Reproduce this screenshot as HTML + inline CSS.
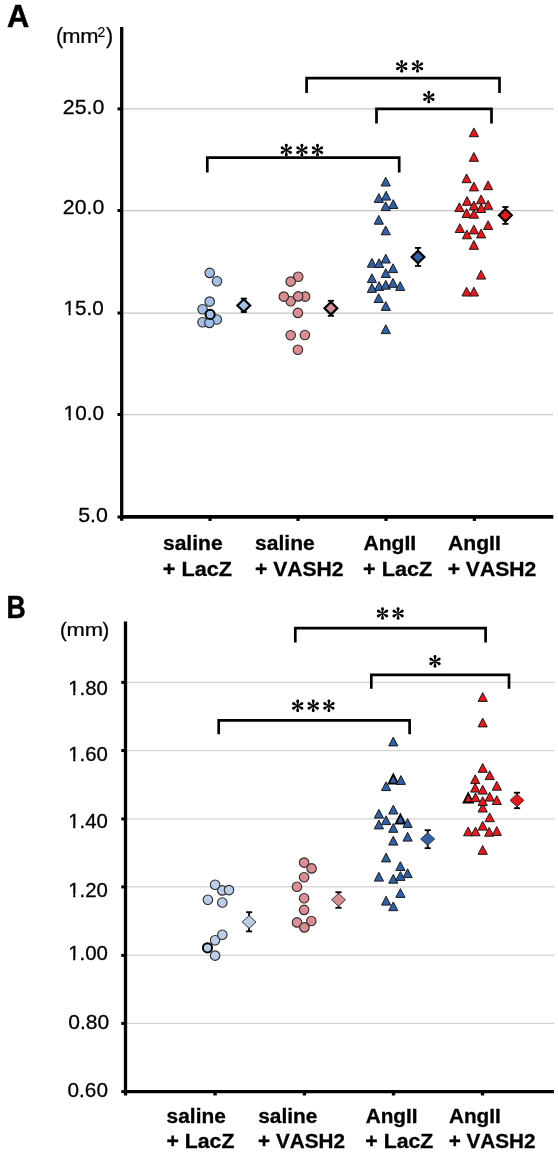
<!DOCTYPE html>
<html><head><meta charset="utf-8"><title>Figure</title>
<style>
html,body{margin:0;padding:0;background:#fff;}
body{width:558px;height:1155px;overflow:hidden;}
svg{display:block;font-family:"Liberation Sans", sans-serif;font-kerning:none;will-change:transform;}
</style></head><body>
<svg width="558" height="1155" viewBox="0 0 558 1155">
<rect width="558" height="1155" fill="#fff"/>
<line x1="121.7" y1="108.9" x2="553.3" y2="108.9" stroke="#c6c6c6" stroke-width="1.25"/>
<line x1="121.7" y1="210.5" x2="553.3" y2="210.5" stroke="#c6c6c6" stroke-width="1.25"/>
<line x1="121.7" y1="313.0" x2="553.3" y2="313.0" stroke="#c6c6c6" stroke-width="1.25"/>
<line x1="121.7" y1="414.5" x2="553.3" y2="414.5" stroke="#c6c6c6" stroke-width="1.25"/>
<line x1="117.5" y1="108.9" x2="121.7" y2="108.9" stroke="#000" stroke-width="3"/>
<line x1="117.5" y1="210.5" x2="121.7" y2="210.5" stroke="#000" stroke-width="3"/>
<line x1="117.5" y1="313.0" x2="121.7" y2="313.0" stroke="#000" stroke-width="3"/>
<line x1="117.5" y1="414.5" x2="121.7" y2="414.5" stroke="#000" stroke-width="3"/>
<line x1="117.5" y1="517.0" x2="121.7" y2="517.0" stroke="#000" stroke-width="3"/>
<line x1="210.05" y1="517.0" x2="210.05" y2="520.9" stroke="#000" stroke-width="3.3"/>
<line x1="298.05" y1="517.0" x2="298.05" y2="520.9" stroke="#000" stroke-width="3.3"/>
<line x1="386.00" y1="517.0" x2="386.00" y2="520.9" stroke="#000" stroke-width="3.3"/>
<line x1="474.40" y1="517.0" x2="474.40" y2="520.9" stroke="#000" stroke-width="3.3"/>
<line x1="121.7" y1="27.0" x2="121.7" y2="520.8" stroke="#000" stroke-width="3.3"/>
<line x1="120.1" y1="516.95" x2="553.3" y2="516.95" stroke="#000" stroke-width="3.7"/>
<line x1="125.5" y1="682.4" x2="554.5" y2="682.4" stroke="#d5d5d5" stroke-width="1.25"/>
<line x1="125.5" y1="750.5" x2="554.5" y2="750.5" stroke="#d5d5d5" stroke-width="1.25"/>
<line x1="125.5" y1="818.9" x2="554.5" y2="818.9" stroke="#d5d5d5" stroke-width="1.25"/>
<line x1="125.5" y1="886.9" x2="554.5" y2="886.9" stroke="#d5d5d5" stroke-width="1.25"/>
<line x1="125.5" y1="955.4" x2="554.5" y2="955.4" stroke="#d5d5d5" stroke-width="1.25"/>
<line x1="125.5" y1="1023.4" x2="554.5" y2="1023.4" stroke="#d5d5d5" stroke-width="1.25"/>
<line x1="121.3" y1="682.4" x2="125.5" y2="682.4" stroke="#000" stroke-width="3"/>
<line x1="121.3" y1="750.5" x2="125.5" y2="750.5" stroke="#000" stroke-width="3"/>
<line x1="121.3" y1="818.9" x2="125.5" y2="818.9" stroke="#000" stroke-width="3"/>
<line x1="121.3" y1="886.9" x2="125.5" y2="886.9" stroke="#000" stroke-width="3"/>
<line x1="121.3" y1="955.4" x2="125.5" y2="955.4" stroke="#000" stroke-width="3"/>
<line x1="121.3" y1="1023.4" x2="125.5" y2="1023.4" stroke="#000" stroke-width="3"/>
<line x1="121.3" y1="1091.6" x2="125.5" y2="1091.6" stroke="#000" stroke-width="3"/>
<line x1="215.10" y1="1091.6" x2="215.10" y2="1095.5" stroke="#000" stroke-width="3.3"/>
<line x1="304.45" y1="1091.6" x2="304.45" y2="1095.5" stroke="#000" stroke-width="3.3"/>
<line x1="393.50" y1="1091.6" x2="393.50" y2="1095.5" stroke="#000" stroke-width="3.3"/>
<line x1="482.50" y1="1091.6" x2="482.50" y2="1095.5" stroke="#000" stroke-width="3.3"/>
<line x1="125.5" y1="621.4" x2="125.5" y2="1095.4" stroke="#000" stroke-width="3.3"/>
<line x1="123.9" y1="1091.60" x2="553.9" y2="1091.60" stroke="#000" stroke-width="3.4"/>
<text transform="translate(62.83,114.00) scale(1.046,1)" font-size="20.40" stroke="#000" stroke-width="0.3">25.0</text>
<text transform="translate(62.83,214.10) scale(1.043,1)" font-size="20.40" stroke="#000" stroke-width="0.3">20.0</text>
<text transform="translate(63.52,314.50) scale(1.015,1)" font-size="20.40" stroke="#000" stroke-width="0.3">15.0</text>
<rect x="63.90" y="311.50" width="4.68" height="4.50" fill="#fff"/>
<rect x="70.71" y="311.50" width="4.52" height="4.50" fill="#fff"/>
<text transform="translate(63.62,419.90) scale(1.018,1)" font-size="20.40" stroke="#000" stroke-width="0.3">10.0</text>
<rect x="64.00" y="416.90" width="4.69" height="4.50" fill="#fff"/>
<rect x="70.83" y="416.90" width="4.53" height="4.50" fill="#fff"/>
<text transform="translate(78.24,522.20) scale(1.048,1)" font-size="20.40" stroke="#000" stroke-width="0.3">5.0</text>
<text transform="translate(68.25,694.80) scale(0.987,1)" font-size="20.60" stroke="#000" stroke-width="0.3">1.80</text>
<rect x="68.60" y="691.80" width="4.61" height="4.50" fill="#fff"/>
<rect x="75.31" y="691.80" width="4.46" height="4.50" fill="#fff"/>
<text transform="translate(68.25,761.20) scale(0.987,1)" font-size="20.60" stroke="#000" stroke-width="0.3">1.60</text>
<rect x="68.60" y="758.20" width="4.61" height="4.50" fill="#fff"/>
<rect x="75.31" y="758.20" width="4.46" height="4.50" fill="#fff"/>
<text transform="translate(68.25,828.30) scale(0.987,1)" font-size="20.60" stroke="#000" stroke-width="0.3">1.40</text>
<rect x="68.60" y="825.30" width="4.61" height="4.50" fill="#fff"/>
<rect x="75.31" y="825.30" width="4.46" height="4.50" fill="#fff"/>
<text transform="translate(68.25,896.50) scale(0.987,1)" font-size="20.60" stroke="#000" stroke-width="0.3">1.20</text>
<rect x="68.60" y="893.50" width="4.61" height="4.50" fill="#fff"/>
<rect x="75.31" y="893.50" width="4.46" height="4.50" fill="#fff"/>
<text transform="translate(68.14,960.40) scale(0.992,1)" font-size="20.60" stroke="#000" stroke-width="0.3">1.00</text>
<rect x="68.50" y="957.40" width="4.63" height="4.50" fill="#fff"/>
<rect x="75.24" y="957.40" width="4.47" height="4.50" fill="#fff"/>
<text transform="translate(68.28,1029.20) scale(1.022,1)" font-size="20.60" stroke="#000" stroke-width="0.3">0.80</text>
<text transform="translate(67.59,1096.70) scale(1.006,1)" font-size="20.60" stroke="#000" stroke-width="0.3">0.60</text>
<text transform="translate(6.98,26.85) scale(0.975,1)" font-size="31.60" font-weight="bold" stroke="#000" stroke-width="0.5">A</text>
<text transform="translate(6.47,618.20) scale(0.830,1)" font-size="32.00" font-weight="bold" stroke="#000" stroke-width="0.5">B</text>
<text x="55.88" y="43.00" font-size="21.30" stroke="#000" stroke-width="0.25">(</text>
<text transform="translate(62.15,42.70) scale(1.100,1)" font-size="19.90" stroke="#000" stroke-width="0.25">mm</text>
<text x="97.50" y="36.60" font-size="14.00" stroke="#000" stroke-width="0.2">2</text>
<text x="105.93" y="43.00" font-size="21.30" stroke="#000" stroke-width="0.25">)</text>
<text x="59.96" y="636.60" font-size="20.00" stroke="#000" stroke-width="0.3">(</text>
<text transform="translate(66.44,636.20) scale(1.146,1)" font-size="19.20" stroke="#000" stroke-width="0.25">mm</text>
<text x="102.38" y="636.60" font-size="20.00" stroke="#000" stroke-width="0.3">)</text>
<text transform="translate(163.01,549.90) scale(1.025,1)" font-size="20.50" font-weight="bold" stroke="#000" stroke-width="0.3">saline</text>
<text transform="translate(162.84,576.10) scale(1.040,1)" font-size="20.80" font-weight="bold" stroke="#000" stroke-width="0.3">+ LacZ</text>
<text transform="translate(255.11,549.90) scale(1.025,1)" font-size="20.50" font-weight="bold" stroke="#000" stroke-width="0.3">saline</text>
<text transform="translate(254.96,576.10) scale(1.015,1)" font-size="20.80" font-weight="bold" stroke="#000" stroke-width="0.3">+ VASH2</text>
<text transform="translate(363.42,549.90) scale(1.030,1)" font-size="20.50" font-weight="bold" stroke="#000" stroke-width="0.3">AngII</text>
<text transform="translate(363.04,576.10) scale(1.040,1)" font-size="20.80" font-weight="bold" stroke="#000" stroke-width="0.3">+ LacZ</text>
<text transform="translate(448.02,549.90) scale(1.030,1)" font-size="20.50" font-weight="bold" stroke="#000" stroke-width="0.3">AngII</text>
<text transform="translate(447.66,576.10) scale(1.015,1)" font-size="20.80" font-weight="bold" stroke="#000" stroke-width="0.3">+ VASH2</text>
<text transform="translate(166.62,1123.45) scale(1.039,1)" font-size="20.10" font-weight="bold" stroke="#000" stroke-width="0.3">saline</text>
<text transform="translate(166.46,1148.35) scale(1.058,1)" font-size="20.10" font-weight="bold" stroke="#000" stroke-width="0.3">+ LacZ</text>
<text transform="translate(258.22,1123.45) scale(1.039,1)" font-size="20.10" font-weight="bold" stroke="#000" stroke-width="0.3">saline</text>
<text transform="translate(258.08,1148.35) scale(1.030,1)" font-size="20.10" font-weight="bold" stroke="#000" stroke-width="0.3">+ VASH2</text>
<text transform="translate(365.73,1123.45) scale(1.032,1)" font-size="20.10" font-weight="bold" stroke="#000" stroke-width="0.3">AngII</text>
<text transform="translate(365.36,1148.35) scale(1.058,1)" font-size="20.10" font-weight="bold" stroke="#000" stroke-width="0.3">+ LacZ</text>
<text transform="translate(448.98,1123.45) scale(1.032,1)" font-size="20.10" font-weight="bold" stroke="#000" stroke-width="0.3">AngII</text>
<text transform="translate(448.63,1148.35) scale(1.030,1)" font-size="20.10" font-weight="bold" stroke="#000" stroke-width="0.3">+ VASH2</text>
<path d="M306.6,93.0 L306.6,78.2 L499.5,78.2 L499.5,93.0" fill="none" stroke="#000" stroke-width="2.7" stroke-linejoin="miter"/>
<path d="M376.5,123.5 L376.5,108.8 L491.5,108.8 L491.5,123.5" fill="none" stroke="#000" stroke-width="2.7" stroke-linejoin="miter"/>
<path d="M207.3,172.6 L207.3,157.7 L399.2,157.7 L399.2,172.6" fill="none" stroke="#000" stroke-width="2.7" stroke-linejoin="miter"/>
<path d="M295.3,642.6 L295.3,628.2 L485.6,628.2 L485.6,642.6" fill="none" stroke="#000" stroke-width="2.7" stroke-linejoin="miter"/>
<path d="M371.3,688.7 L371.3,674.8 L509.0,674.8 L509.0,688.7" fill="none" stroke="#000" stroke-width="2.7" stroke-linejoin="miter"/>
<path d="M218.7,734.2 L218.7,720.4 L409.6,720.4 L409.6,734.2" fill="none" stroke="#000" stroke-width="2.7" stroke-linejoin="miter"/>
<g fill="#000"><path transform="translate(401.70,66.30) rotate(0) scale(1.0)" d="M-0.38,0 L-1.25,-4.6 L1.25,-4.6 L0.38,0 Z"/><circle transform="translate(401.70,66.30) rotate(0) scale(1.0)" cx="0" cy="-4.9" r="1.45"/><path transform="translate(401.70,66.30) rotate(60) scale(1.0)" d="M-0.38,0 L-1.25,-4.6 L1.25,-4.6 L0.38,0 Z"/><circle transform="translate(401.70,66.30) rotate(60) scale(1.0)" cx="0" cy="-4.9" r="1.45"/><path transform="translate(401.70,66.30) rotate(120) scale(1.0)" d="M-0.38,0 L-1.25,-4.6 L1.25,-4.6 L0.38,0 Z"/><circle transform="translate(401.70,66.30) rotate(120) scale(1.0)" cx="0" cy="-4.9" r="1.45"/><path transform="translate(401.70,66.30) rotate(180) scale(1.0)" d="M-0.38,0 L-1.25,-4.6 L1.25,-4.6 L0.38,0 Z"/><circle transform="translate(401.70,66.30) rotate(180) scale(1.0)" cx="0" cy="-4.9" r="1.45"/><path transform="translate(401.70,66.30) rotate(240) scale(1.0)" d="M-0.38,0 L-1.25,-4.6 L1.25,-4.6 L0.38,0 Z"/><circle transform="translate(401.70,66.30) rotate(240) scale(1.0)" cx="0" cy="-4.9" r="1.45"/><path transform="translate(401.70,66.30) rotate(300) scale(1.0)" d="M-0.38,0 L-1.25,-4.6 L1.25,-4.6 L0.38,0 Z"/><circle transform="translate(401.70,66.30) rotate(300) scale(1.0)" cx="0" cy="-4.9" r="1.45"/><path transform="translate(417.50,66.30) rotate(0) scale(1.0)" d="M-0.38,0 L-1.25,-4.6 L1.25,-4.6 L0.38,0 Z"/><circle transform="translate(417.50,66.30) rotate(0) scale(1.0)" cx="0" cy="-4.9" r="1.45"/><path transform="translate(417.50,66.30) rotate(60) scale(1.0)" d="M-0.38,0 L-1.25,-4.6 L1.25,-4.6 L0.38,0 Z"/><circle transform="translate(417.50,66.30) rotate(60) scale(1.0)" cx="0" cy="-4.9" r="1.45"/><path transform="translate(417.50,66.30) rotate(120) scale(1.0)" d="M-0.38,0 L-1.25,-4.6 L1.25,-4.6 L0.38,0 Z"/><circle transform="translate(417.50,66.30) rotate(120) scale(1.0)" cx="0" cy="-4.9" r="1.45"/><path transform="translate(417.50,66.30) rotate(180) scale(1.0)" d="M-0.38,0 L-1.25,-4.6 L1.25,-4.6 L0.38,0 Z"/><circle transform="translate(417.50,66.30) rotate(180) scale(1.0)" cx="0" cy="-4.9" r="1.45"/><path transform="translate(417.50,66.30) rotate(240) scale(1.0)" d="M-0.38,0 L-1.25,-4.6 L1.25,-4.6 L0.38,0 Z"/><circle transform="translate(417.50,66.30) rotate(240) scale(1.0)" cx="0" cy="-4.9" r="1.45"/><path transform="translate(417.50,66.30) rotate(300) scale(1.0)" d="M-0.38,0 L-1.25,-4.6 L1.25,-4.6 L0.38,0 Z"/><circle transform="translate(417.50,66.30) rotate(300) scale(1.0)" cx="0" cy="-4.9" r="1.45"/><path transform="translate(428.80,97.10) rotate(0) scale(1.0)" d="M-0.38,0 L-1.25,-4.6 L1.25,-4.6 L0.38,0 Z"/><circle transform="translate(428.80,97.10) rotate(0) scale(1.0)" cx="0" cy="-4.9" r="1.45"/><path transform="translate(428.80,97.10) rotate(60) scale(1.0)" d="M-0.38,0 L-1.25,-4.6 L1.25,-4.6 L0.38,0 Z"/><circle transform="translate(428.80,97.10) rotate(60) scale(1.0)" cx="0" cy="-4.9" r="1.45"/><path transform="translate(428.80,97.10) rotate(120) scale(1.0)" d="M-0.38,0 L-1.25,-4.6 L1.25,-4.6 L0.38,0 Z"/><circle transform="translate(428.80,97.10) rotate(120) scale(1.0)" cx="0" cy="-4.9" r="1.45"/><path transform="translate(428.80,97.10) rotate(180) scale(1.0)" d="M-0.38,0 L-1.25,-4.6 L1.25,-4.6 L0.38,0 Z"/><circle transform="translate(428.80,97.10) rotate(180) scale(1.0)" cx="0" cy="-4.9" r="1.45"/><path transform="translate(428.80,97.10) rotate(240) scale(1.0)" d="M-0.38,0 L-1.25,-4.6 L1.25,-4.6 L0.38,0 Z"/><circle transform="translate(428.80,97.10) rotate(240) scale(1.0)" cx="0" cy="-4.9" r="1.45"/><path transform="translate(428.80,97.10) rotate(300) scale(1.0)" d="M-0.38,0 L-1.25,-4.6 L1.25,-4.6 L0.38,0 Z"/><circle transform="translate(428.80,97.10) rotate(300) scale(1.0)" cx="0" cy="-4.9" r="1.45"/><path transform="translate(286.30,150.10) rotate(0) scale(1.0)" d="M-0.38,0 L-1.25,-4.6 L1.25,-4.6 L0.38,0 Z"/><circle transform="translate(286.30,150.10) rotate(0) scale(1.0)" cx="0" cy="-4.9" r="1.45"/><path transform="translate(286.30,150.10) rotate(60) scale(1.0)" d="M-0.38,0 L-1.25,-4.6 L1.25,-4.6 L0.38,0 Z"/><circle transform="translate(286.30,150.10) rotate(60) scale(1.0)" cx="0" cy="-4.9" r="1.45"/><path transform="translate(286.30,150.10) rotate(120) scale(1.0)" d="M-0.38,0 L-1.25,-4.6 L1.25,-4.6 L0.38,0 Z"/><circle transform="translate(286.30,150.10) rotate(120) scale(1.0)" cx="0" cy="-4.9" r="1.45"/><path transform="translate(286.30,150.10) rotate(180) scale(1.0)" d="M-0.38,0 L-1.25,-4.6 L1.25,-4.6 L0.38,0 Z"/><circle transform="translate(286.30,150.10) rotate(180) scale(1.0)" cx="0" cy="-4.9" r="1.45"/><path transform="translate(286.30,150.10) rotate(240) scale(1.0)" d="M-0.38,0 L-1.25,-4.6 L1.25,-4.6 L0.38,0 Z"/><circle transform="translate(286.30,150.10) rotate(240) scale(1.0)" cx="0" cy="-4.9" r="1.45"/><path transform="translate(286.30,150.10) rotate(300) scale(1.0)" d="M-0.38,0 L-1.25,-4.6 L1.25,-4.6 L0.38,0 Z"/><circle transform="translate(286.30,150.10) rotate(300) scale(1.0)" cx="0" cy="-4.9" r="1.45"/><path transform="translate(301.90,150.10) rotate(0) scale(1.0)" d="M-0.38,0 L-1.25,-4.6 L1.25,-4.6 L0.38,0 Z"/><circle transform="translate(301.90,150.10) rotate(0) scale(1.0)" cx="0" cy="-4.9" r="1.45"/><path transform="translate(301.90,150.10) rotate(60) scale(1.0)" d="M-0.38,0 L-1.25,-4.6 L1.25,-4.6 L0.38,0 Z"/><circle transform="translate(301.90,150.10) rotate(60) scale(1.0)" cx="0" cy="-4.9" r="1.45"/><path transform="translate(301.90,150.10) rotate(120) scale(1.0)" d="M-0.38,0 L-1.25,-4.6 L1.25,-4.6 L0.38,0 Z"/><circle transform="translate(301.90,150.10) rotate(120) scale(1.0)" cx="0" cy="-4.9" r="1.45"/><path transform="translate(301.90,150.10) rotate(180) scale(1.0)" d="M-0.38,0 L-1.25,-4.6 L1.25,-4.6 L0.38,0 Z"/><circle transform="translate(301.90,150.10) rotate(180) scale(1.0)" cx="0" cy="-4.9" r="1.45"/><path transform="translate(301.90,150.10) rotate(240) scale(1.0)" d="M-0.38,0 L-1.25,-4.6 L1.25,-4.6 L0.38,0 Z"/><circle transform="translate(301.90,150.10) rotate(240) scale(1.0)" cx="0" cy="-4.9" r="1.45"/><path transform="translate(301.90,150.10) rotate(300) scale(1.0)" d="M-0.38,0 L-1.25,-4.6 L1.25,-4.6 L0.38,0 Z"/><circle transform="translate(301.90,150.10) rotate(300) scale(1.0)" cx="0" cy="-4.9" r="1.45"/><path transform="translate(317.50,150.10) rotate(0) scale(1.0)" d="M-0.38,0 L-1.25,-4.6 L1.25,-4.6 L0.38,0 Z"/><circle transform="translate(317.50,150.10) rotate(0) scale(1.0)" cx="0" cy="-4.9" r="1.45"/><path transform="translate(317.50,150.10) rotate(60) scale(1.0)" d="M-0.38,0 L-1.25,-4.6 L1.25,-4.6 L0.38,0 Z"/><circle transform="translate(317.50,150.10) rotate(60) scale(1.0)" cx="0" cy="-4.9" r="1.45"/><path transform="translate(317.50,150.10) rotate(120) scale(1.0)" d="M-0.38,0 L-1.25,-4.6 L1.25,-4.6 L0.38,0 Z"/><circle transform="translate(317.50,150.10) rotate(120) scale(1.0)" cx="0" cy="-4.9" r="1.45"/><path transform="translate(317.50,150.10) rotate(180) scale(1.0)" d="M-0.38,0 L-1.25,-4.6 L1.25,-4.6 L0.38,0 Z"/><circle transform="translate(317.50,150.10) rotate(180) scale(1.0)" cx="0" cy="-4.9" r="1.45"/><path transform="translate(317.50,150.10) rotate(240) scale(1.0)" d="M-0.38,0 L-1.25,-4.6 L1.25,-4.6 L0.38,0 Z"/><circle transform="translate(317.50,150.10) rotate(240) scale(1.0)" cx="0" cy="-4.9" r="1.45"/><path transform="translate(317.50,150.10) rotate(300) scale(1.0)" d="M-0.38,0 L-1.25,-4.6 L1.25,-4.6 L0.38,0 Z"/><circle transform="translate(317.50,150.10) rotate(300) scale(1.0)" cx="0" cy="-4.9" r="1.45"/><path transform="translate(382.50,613.50) rotate(0) scale(1.0)" d="M-0.38,0 L-1.25,-4.6 L1.25,-4.6 L0.38,0 Z"/><circle transform="translate(382.50,613.50) rotate(0) scale(1.0)" cx="0" cy="-4.9" r="1.45"/><path transform="translate(382.50,613.50) rotate(60) scale(1.0)" d="M-0.38,0 L-1.25,-4.6 L1.25,-4.6 L0.38,0 Z"/><circle transform="translate(382.50,613.50) rotate(60) scale(1.0)" cx="0" cy="-4.9" r="1.45"/><path transform="translate(382.50,613.50) rotate(120) scale(1.0)" d="M-0.38,0 L-1.25,-4.6 L1.25,-4.6 L0.38,0 Z"/><circle transform="translate(382.50,613.50) rotate(120) scale(1.0)" cx="0" cy="-4.9" r="1.45"/><path transform="translate(382.50,613.50) rotate(180) scale(1.0)" d="M-0.38,0 L-1.25,-4.6 L1.25,-4.6 L0.38,0 Z"/><circle transform="translate(382.50,613.50) rotate(180) scale(1.0)" cx="0" cy="-4.9" r="1.45"/><path transform="translate(382.50,613.50) rotate(240) scale(1.0)" d="M-0.38,0 L-1.25,-4.6 L1.25,-4.6 L0.38,0 Z"/><circle transform="translate(382.50,613.50) rotate(240) scale(1.0)" cx="0" cy="-4.9" r="1.45"/><path transform="translate(382.50,613.50) rotate(300) scale(1.0)" d="M-0.38,0 L-1.25,-4.6 L1.25,-4.6 L0.38,0 Z"/><circle transform="translate(382.50,613.50) rotate(300) scale(1.0)" cx="0" cy="-4.9" r="1.45"/><path transform="translate(398.10,613.50) rotate(0) scale(1.0)" d="M-0.38,0 L-1.25,-4.6 L1.25,-4.6 L0.38,0 Z"/><circle transform="translate(398.10,613.50) rotate(0) scale(1.0)" cx="0" cy="-4.9" r="1.45"/><path transform="translate(398.10,613.50) rotate(60) scale(1.0)" d="M-0.38,0 L-1.25,-4.6 L1.25,-4.6 L0.38,0 Z"/><circle transform="translate(398.10,613.50) rotate(60) scale(1.0)" cx="0" cy="-4.9" r="1.45"/><path transform="translate(398.10,613.50) rotate(120) scale(1.0)" d="M-0.38,0 L-1.25,-4.6 L1.25,-4.6 L0.38,0 Z"/><circle transform="translate(398.10,613.50) rotate(120) scale(1.0)" cx="0" cy="-4.9" r="1.45"/><path transform="translate(398.10,613.50) rotate(180) scale(1.0)" d="M-0.38,0 L-1.25,-4.6 L1.25,-4.6 L0.38,0 Z"/><circle transform="translate(398.10,613.50) rotate(180) scale(1.0)" cx="0" cy="-4.9" r="1.45"/><path transform="translate(398.10,613.50) rotate(240) scale(1.0)" d="M-0.38,0 L-1.25,-4.6 L1.25,-4.6 L0.38,0 Z"/><circle transform="translate(398.10,613.50) rotate(240) scale(1.0)" cx="0" cy="-4.9" r="1.45"/><path transform="translate(398.10,613.50) rotate(300) scale(1.0)" d="M-0.38,0 L-1.25,-4.6 L1.25,-4.6 L0.38,0 Z"/><circle transform="translate(398.10,613.50) rotate(300) scale(1.0)" cx="0" cy="-4.9" r="1.45"/><path transform="translate(435.00,661.40) rotate(0) scale(1.0)" d="M-0.38,0 L-1.25,-4.6 L1.25,-4.6 L0.38,0 Z"/><circle transform="translate(435.00,661.40) rotate(0) scale(1.0)" cx="0" cy="-4.9" r="1.45"/><path transform="translate(435.00,661.40) rotate(60) scale(1.0)" d="M-0.38,0 L-1.25,-4.6 L1.25,-4.6 L0.38,0 Z"/><circle transform="translate(435.00,661.40) rotate(60) scale(1.0)" cx="0" cy="-4.9" r="1.45"/><path transform="translate(435.00,661.40) rotate(120) scale(1.0)" d="M-0.38,0 L-1.25,-4.6 L1.25,-4.6 L0.38,0 Z"/><circle transform="translate(435.00,661.40) rotate(120) scale(1.0)" cx="0" cy="-4.9" r="1.45"/><path transform="translate(435.00,661.40) rotate(180) scale(1.0)" d="M-0.38,0 L-1.25,-4.6 L1.25,-4.6 L0.38,0 Z"/><circle transform="translate(435.00,661.40) rotate(180) scale(1.0)" cx="0" cy="-4.9" r="1.45"/><path transform="translate(435.00,661.40) rotate(240) scale(1.0)" d="M-0.38,0 L-1.25,-4.6 L1.25,-4.6 L0.38,0 Z"/><circle transform="translate(435.00,661.40) rotate(240) scale(1.0)" cx="0" cy="-4.9" r="1.45"/><path transform="translate(435.00,661.40) rotate(300) scale(1.0)" d="M-0.38,0 L-1.25,-4.6 L1.25,-4.6 L0.38,0 Z"/><circle transform="translate(435.00,661.40) rotate(300) scale(1.0)" cx="0" cy="-4.9" r="1.45"/><path transform="translate(297.70,705.90) rotate(0) scale(1.0)" d="M-0.38,0 L-1.25,-4.6 L1.25,-4.6 L0.38,0 Z"/><circle transform="translate(297.70,705.90) rotate(0) scale(1.0)" cx="0" cy="-4.9" r="1.45"/><path transform="translate(297.70,705.90) rotate(60) scale(1.0)" d="M-0.38,0 L-1.25,-4.6 L1.25,-4.6 L0.38,0 Z"/><circle transform="translate(297.70,705.90) rotate(60) scale(1.0)" cx="0" cy="-4.9" r="1.45"/><path transform="translate(297.70,705.90) rotate(120) scale(1.0)" d="M-0.38,0 L-1.25,-4.6 L1.25,-4.6 L0.38,0 Z"/><circle transform="translate(297.70,705.90) rotate(120) scale(1.0)" cx="0" cy="-4.9" r="1.45"/><path transform="translate(297.70,705.90) rotate(180) scale(1.0)" d="M-0.38,0 L-1.25,-4.6 L1.25,-4.6 L0.38,0 Z"/><circle transform="translate(297.70,705.90) rotate(180) scale(1.0)" cx="0" cy="-4.9" r="1.45"/><path transform="translate(297.70,705.90) rotate(240) scale(1.0)" d="M-0.38,0 L-1.25,-4.6 L1.25,-4.6 L0.38,0 Z"/><circle transform="translate(297.70,705.90) rotate(240) scale(1.0)" cx="0" cy="-4.9" r="1.45"/><path transform="translate(297.70,705.90) rotate(300) scale(1.0)" d="M-0.38,0 L-1.25,-4.6 L1.25,-4.6 L0.38,0 Z"/><circle transform="translate(297.70,705.90) rotate(300) scale(1.0)" cx="0" cy="-4.9" r="1.45"/><path transform="translate(313.20,705.90) rotate(0) scale(1.0)" d="M-0.38,0 L-1.25,-4.6 L1.25,-4.6 L0.38,0 Z"/><circle transform="translate(313.20,705.90) rotate(0) scale(1.0)" cx="0" cy="-4.9" r="1.45"/><path transform="translate(313.20,705.90) rotate(60) scale(1.0)" d="M-0.38,0 L-1.25,-4.6 L1.25,-4.6 L0.38,0 Z"/><circle transform="translate(313.20,705.90) rotate(60) scale(1.0)" cx="0" cy="-4.9" r="1.45"/><path transform="translate(313.20,705.90) rotate(120) scale(1.0)" d="M-0.38,0 L-1.25,-4.6 L1.25,-4.6 L0.38,0 Z"/><circle transform="translate(313.20,705.90) rotate(120) scale(1.0)" cx="0" cy="-4.9" r="1.45"/><path transform="translate(313.20,705.90) rotate(180) scale(1.0)" d="M-0.38,0 L-1.25,-4.6 L1.25,-4.6 L0.38,0 Z"/><circle transform="translate(313.20,705.90) rotate(180) scale(1.0)" cx="0" cy="-4.9" r="1.45"/><path transform="translate(313.20,705.90) rotate(240) scale(1.0)" d="M-0.38,0 L-1.25,-4.6 L1.25,-4.6 L0.38,0 Z"/><circle transform="translate(313.20,705.90) rotate(240) scale(1.0)" cx="0" cy="-4.9" r="1.45"/><path transform="translate(313.20,705.90) rotate(300) scale(1.0)" d="M-0.38,0 L-1.25,-4.6 L1.25,-4.6 L0.38,0 Z"/><circle transform="translate(313.20,705.90) rotate(300) scale(1.0)" cx="0" cy="-4.9" r="1.45"/><path transform="translate(328.90,705.90) rotate(0) scale(1.0)" d="M-0.38,0 L-1.25,-4.6 L1.25,-4.6 L0.38,0 Z"/><circle transform="translate(328.90,705.90) rotate(0) scale(1.0)" cx="0" cy="-4.9" r="1.45"/><path transform="translate(328.90,705.90) rotate(60) scale(1.0)" d="M-0.38,0 L-1.25,-4.6 L1.25,-4.6 L0.38,0 Z"/><circle transform="translate(328.90,705.90) rotate(60) scale(1.0)" cx="0" cy="-4.9" r="1.45"/><path transform="translate(328.90,705.90) rotate(120) scale(1.0)" d="M-0.38,0 L-1.25,-4.6 L1.25,-4.6 L0.38,0 Z"/><circle transform="translate(328.90,705.90) rotate(120) scale(1.0)" cx="0" cy="-4.9" r="1.45"/><path transform="translate(328.90,705.90) rotate(180) scale(1.0)" d="M-0.38,0 L-1.25,-4.6 L1.25,-4.6 L0.38,0 Z"/><circle transform="translate(328.90,705.90) rotate(180) scale(1.0)" cx="0" cy="-4.9" r="1.45"/><path transform="translate(328.90,705.90) rotate(240) scale(1.0)" d="M-0.38,0 L-1.25,-4.6 L1.25,-4.6 L0.38,0 Z"/><circle transform="translate(328.90,705.90) rotate(240) scale(1.0)" cx="0" cy="-4.9" r="1.45"/><path transform="translate(328.90,705.90) rotate(300) scale(1.0)" d="M-0.38,0 L-1.25,-4.6 L1.25,-4.6 L0.38,0 Z"/><circle transform="translate(328.90,705.90) rotate(300) scale(1.0)" cx="0" cy="-4.9" r="1.45"/></g>
<circle cx="209.7" cy="272.9" r="4.75" fill="#a2c0e6" stroke="#2b2b2b" stroke-width="1.1"/>
<circle cx="217.0" cy="281.3" r="4.75" fill="#a2c0e6" stroke="#2b2b2b" stroke-width="1.1"/>
<circle cx="209.7" cy="301.6" r="4.75" fill="#a2c0e6" stroke="#2b2b2b" stroke-width="1.1"/>
<circle cx="202.6" cy="309.2" r="4.75" fill="#a2c0e6" stroke="#2b2b2b" stroke-width="1.1"/>
<circle cx="216.8" cy="319.5" r="4.75" fill="#a2c0e6" stroke="#2b2b2b" stroke-width="1.1"/>
<circle cx="202.5" cy="322.3" r="4.75" fill="#a2c0e6" stroke="#2b2b2b" stroke-width="1.1"/>
<circle cx="209.4" cy="322.9" r="4.75" fill="#a2c0e6" stroke="#2b2b2b" stroke-width="1.1"/>
<circle cx="210.1" cy="314.4" r="4.6" fill="#a2c0e6" stroke="#000" stroke-width="2"/>
<line x1="243.8" y1="298.6" x2="243.8" y2="312.0" stroke="#000" stroke-width="1.9"/><line x1="240.7" y1="298.6" x2="246.9" y2="298.6" stroke="#000" stroke-width="1.8"/><line x1="240.7" y1="312.0" x2="246.9" y2="312.0" stroke="#000" stroke-width="1.8"/><polygon points="243.8,299.2 250.2,305.5 243.8,311.8 237.4,305.5" fill="#a2c0e6" stroke="#000" stroke-width="2.2" stroke-linejoin="miter"/>
<circle cx="298.2" cy="276.7" r="4.75" fill="#da8e93" stroke="#2b2b2b" stroke-width="1.1"/>
<circle cx="290.7" cy="281.6" r="4.75" fill="#da8e93" stroke="#2b2b2b" stroke-width="1.1"/>
<circle cx="290.7" cy="301.2" r="4.75" fill="#da8e93" stroke="#2b2b2b" stroke-width="1.1"/>
<circle cx="305.1" cy="296.6" r="4.75" fill="#da8e93" stroke="#2b2b2b" stroke-width="1.1"/>
<circle cx="283.8" cy="296.6" r="4.75" fill="#da8e93" stroke="#2b2b2b" stroke-width="1.1"/>
<circle cx="298.2" cy="296.4" r="4.75" fill="#da8e93" stroke="#2b2b2b" stroke-width="1.1"/>
<circle cx="297.9" cy="312.9" r="4.75" fill="#da8e93" stroke="#2b2b2b" stroke-width="1.1"/>
<circle cx="290.7" cy="335.3" r="4.75" fill="#da8e93" stroke="#2b2b2b" stroke-width="1.1"/>
<circle cx="304.9" cy="335.0" r="4.75" fill="#da8e93" stroke="#2b2b2b" stroke-width="1.1"/>
<circle cx="297.9" cy="349.7" r="4.75" fill="#da8e93" stroke="#2b2b2b" stroke-width="1.1"/>
<line x1="330.9" y1="300.8" x2="330.9" y2="315.8" stroke="#000" stroke-width="1.9"/><line x1="327.8" y1="300.8" x2="334.0" y2="300.8" stroke="#000" stroke-width="1.8"/><line x1="327.8" y1="315.8" x2="334.0" y2="315.8" stroke="#000" stroke-width="1.8"/><polygon points="330.9,302.0 337.3,308.3 330.9,314.6 324.5,308.3" fill="#da8e93" stroke="#000" stroke-width="2.2" stroke-linejoin="miter"/>
<polygon points="385.7,177.2 381.1,186.0 390.3,186.0" fill="#3161a4" stroke="#1a1a1a" stroke-width="1" stroke-linejoin="miter"/>
<polygon points="378.8,193.6 374.2,202.4 383.4,202.4" fill="#3161a4" stroke="#1a1a1a" stroke-width="1" stroke-linejoin="miter"/>
<polygon points="386.1,191.3 381.5,200.1 390.7,200.1" fill="#3161a4" stroke="#1a1a1a" stroke-width="1" stroke-linejoin="miter"/>
<polygon points="393.3,199.7 388.7,208.5 397.9,208.5" fill="#3161a4" stroke="#1a1a1a" stroke-width="1" stroke-linejoin="miter"/>
<polygon points="385.7,201.8 381.1,210.6 390.3,210.6" fill="#3161a4" stroke="#1a1a1a" stroke-width="1" stroke-linejoin="miter"/>
<polygon points="378.8,215.4 374.2,224.2 383.4,224.2" fill="#3161a4" stroke="#1a1a1a" stroke-width="1" stroke-linejoin="miter"/>
<polygon points="385.7,226.0 381.1,234.8 390.3,234.8" fill="#3161a4" stroke="#1a1a1a" stroke-width="1" stroke-linejoin="miter"/>
<polygon points="371.9,258.4 367.3,267.2 376.5,267.2" fill="#3161a4" stroke="#1a1a1a" stroke-width="1" stroke-linejoin="miter"/>
<polygon points="379.1,258.7 374.5,267.5 383.7,267.5" fill="#3161a4" stroke="#1a1a1a" stroke-width="1" stroke-linejoin="miter"/>
<polygon points="385.8,254.2 381.2,263.0 390.4,263.0" fill="#3161a4" stroke="#1a1a1a" stroke-width="1" stroke-linejoin="miter"/>
<polygon points="393.0,263.8 388.4,272.6 397.6,272.6" fill="#3161a4" stroke="#1a1a1a" stroke-width="1" stroke-linejoin="miter"/>
<polygon points="385.8,268.7 381.2,277.5 390.4,277.5" fill="#3161a4" stroke="#1a1a1a" stroke-width="1" stroke-linejoin="miter"/>
<polygon points="371.9,273.8 367.3,282.6 376.5,282.6" fill="#3161a4" stroke="#1a1a1a" stroke-width="1" stroke-linejoin="miter"/>
<polygon points="371.9,283.6 367.3,292.4 376.5,292.4" fill="#3161a4" stroke="#1a1a1a" stroke-width="1" stroke-linejoin="miter"/>
<polygon points="379.1,281.6 374.5,290.4 383.7,290.4" fill="#3161a4" stroke="#1a1a1a" stroke-width="1" stroke-linejoin="miter"/>
<polygon points="385.8,280.4 381.2,289.2 390.4,289.2" fill="#3161a4" stroke="#1a1a1a" stroke-width="1" stroke-linejoin="miter"/>
<polygon points="393.0,278.5 388.4,287.3 397.6,287.3" fill="#3161a4" stroke="#1a1a1a" stroke-width="1" stroke-linejoin="miter"/>
<polygon points="400.2,281.6 395.6,290.4 404.8,290.4" fill="#3161a4" stroke="#1a1a1a" stroke-width="1" stroke-linejoin="miter"/>
<polygon points="378.7,293.7 374.1,302.5 383.3,302.5" fill="#3161a4" stroke="#1a1a1a" stroke-width="1" stroke-linejoin="miter"/>
<polygon points="385.8,301.6 381.2,310.4 390.4,310.4" fill="#3161a4" stroke="#1a1a1a" stroke-width="1" stroke-linejoin="miter"/>
<polygon points="385.8,324.8 381.2,333.6 390.4,333.6" fill="#3161a4" stroke="#1a1a1a" stroke-width="1" stroke-linejoin="miter"/>
<line x1="418.0" y1="247.9" x2="418.0" y2="266.0" stroke="#000" stroke-width="1.9"/><line x1="414.9" y1="247.9" x2="421.1" y2="247.9" stroke="#000" stroke-width="1.8"/><line x1="414.9" y1="266.0" x2="421.1" y2="266.0" stroke="#000" stroke-width="1.8"/><polygon points="418.0,250.7 424.4,257.0 418.0,263.3 411.6,257.0" fill="#3161a4" stroke="#000" stroke-width="2.2" stroke-linejoin="miter"/>
<polygon points="473.9,127.9 469.3,136.7 478.5,136.7" fill="#e9161c" stroke="#1a1a1a" stroke-width="1" stroke-linejoin="miter"/>
<polygon points="473.9,152.5 469.3,161.3 478.5,161.3" fill="#e9161c" stroke="#1a1a1a" stroke-width="1" stroke-linejoin="miter"/>
<polygon points="466.6,173.9 462.0,182.7 471.2,182.7" fill="#e9161c" stroke="#1a1a1a" stroke-width="1" stroke-linejoin="miter"/>
<polygon points="473.9,182.1 469.3,190.9 478.5,190.9" fill="#e9161c" stroke="#1a1a1a" stroke-width="1" stroke-linejoin="miter"/>
<polygon points="488.1,180.9 483.5,189.7 492.7,189.7" fill="#e9161c" stroke="#1a1a1a" stroke-width="1" stroke-linejoin="miter"/>
<polygon points="467.1,196.5 462.5,205.3 471.7,205.3" fill="#e9161c" stroke="#1a1a1a" stroke-width="1" stroke-linejoin="miter"/>
<polygon points="481.1,195.0 476.5,203.8 485.7,203.8" fill="#e9161c" stroke="#1a1a1a" stroke-width="1" stroke-linejoin="miter"/>
<polygon points="459.4,202.8 454.8,211.6 464.0,211.6" fill="#e9161c" stroke="#1a1a1a" stroke-width="1" stroke-linejoin="miter"/>
<polygon points="473.9,201.1 469.3,209.9 478.5,209.9" fill="#e9161c" stroke="#1a1a1a" stroke-width="1" stroke-linejoin="miter"/>
<polygon points="488.1,200.5 483.5,209.3 492.7,209.3" fill="#e9161c" stroke="#1a1a1a" stroke-width="1" stroke-linejoin="miter"/>
<polygon points="481.1,203.7 476.5,212.5 485.7,212.5" fill="#e9161c" stroke="#1a1a1a" stroke-width="1" stroke-linejoin="miter"/>
<polygon points="466.6,208.7 462.0,217.5 471.2,217.5" fill="#e9161c" stroke="#1a1a1a" stroke-width="1" stroke-linejoin="miter"/>
<polygon points="473.9,209.4 469.3,218.2 478.5,218.2" fill="#e9161c" stroke="#1a1a1a" stroke-width="1" stroke-linejoin="miter"/>
<polygon points="459.8,223.7 455.2,232.5 464.4,232.5" fill="#e9161c" stroke="#1a1a1a" stroke-width="1" stroke-linejoin="miter"/>
<polygon points="488.1,220.7 483.5,229.5 492.7,229.5" fill="#e9161c" stroke="#1a1a1a" stroke-width="1" stroke-linejoin="miter"/>
<polygon points="473.9,225.1 469.3,233.9 478.5,233.9" fill="#e9161c" stroke="#1a1a1a" stroke-width="1" stroke-linejoin="miter"/>
<polygon points="466.9,230.0 462.3,238.8 471.5,238.8" fill="#e9161c" stroke="#1a1a1a" stroke-width="1" stroke-linejoin="miter"/>
<polygon points="481.1,229.1 476.5,237.9 485.7,237.9" fill="#e9161c" stroke="#1a1a1a" stroke-width="1" stroke-linejoin="miter"/>
<polygon points="473.9,240.5 469.3,249.3 478.5,249.3" fill="#e9161c" stroke="#1a1a1a" stroke-width="1" stroke-linejoin="miter"/>
<polygon points="481.1,270.3 476.5,279.1 485.7,279.1" fill="#e9161c" stroke="#1a1a1a" stroke-width="1" stroke-linejoin="miter"/>
<polygon points="466.6,287.2 462.0,296.0 471.2,296.0" fill="#e9161c" stroke="#1a1a1a" stroke-width="1" stroke-linejoin="miter"/>
<polygon points="473.9,287.2 469.3,296.0 478.5,296.0" fill="#e9161c" stroke="#1a1a1a" stroke-width="1" stroke-linejoin="miter"/>
<line x1="505.4" y1="207.0" x2="505.4" y2="223.9" stroke="#000" stroke-width="1.9"/><line x1="502.3" y1="207.0" x2="508.5" y2="207.0" stroke="#000" stroke-width="1.8"/><line x1="502.3" y1="223.9" x2="508.5" y2="223.9" stroke="#000" stroke-width="1.8"/><polygon points="505.4,209.0 511.8,215.3 505.4,221.6 499.0,215.3" fill="#e9161c" stroke="#000" stroke-width="2.2" stroke-linejoin="miter"/>
<circle cx="222.3" cy="890.4" r="4.75" fill="#bacde6" stroke="#2b2b2b" stroke-width="1.1"/>
<circle cx="215.1" cy="884.8" r="4.75" fill="#bacde6" stroke="#2b2b2b" stroke-width="1.1"/>
<circle cx="229.0" cy="890.1" r="4.75" fill="#bacde6" stroke="#2b2b2b" stroke-width="1.1"/>
<circle cx="207.9" cy="899.7" r="4.75" fill="#bacde6" stroke="#2b2b2b" stroke-width="1.1"/>
<circle cx="222.3" cy="902.5" r="4.75" fill="#bacde6" stroke="#2b2b2b" stroke-width="1.1"/>
<circle cx="215.1" cy="940.3" r="4.75" fill="#bacde6" stroke="#2b2b2b" stroke-width="1.1"/>
<circle cx="222.3" cy="934.8" r="4.75" fill="#bacde6" stroke="#2b2b2b" stroke-width="1.1"/>
<circle cx="215.1" cy="955.6" r="4.75" fill="#bacde6" stroke="#2b2b2b" stroke-width="1.1"/>
<circle cx="207.5" cy="947.8" r="4.6" fill="#bacde6" stroke="#000" stroke-width="2"/>
<line x1="249.1" y1="912.2" x2="249.1" y2="931.4" stroke="#000" stroke-width="1.9"/><line x1="246.0" y1="912.2" x2="252.2" y2="912.2" stroke="#000" stroke-width="1.8"/><line x1="246.0" y1="931.4" x2="252.2" y2="931.4" stroke="#000" stroke-width="1.8"/><polygon points="249.1,915.6 256.0,922.0 249.1,928.4 242.2,922.0" fill="#bacde6" stroke="#333" stroke-width="1" stroke-linejoin="miter"/>
<circle cx="304.1" cy="862.6" r="4.75" fill="#da8e93" stroke="#2b2b2b" stroke-width="1.1"/>
<circle cx="311.6" cy="868.4" r="4.75" fill="#da8e93" stroke="#2b2b2b" stroke-width="1.1"/>
<circle cx="304.1" cy="877.2" r="4.75" fill="#da8e93" stroke="#2b2b2b" stroke-width="1.1"/>
<circle cx="297.0" cy="886.8" r="4.75" fill="#da8e93" stroke="#2b2b2b" stroke-width="1.1"/>
<circle cx="304.1" cy="898.3" r="4.75" fill="#da8e93" stroke="#2b2b2b" stroke-width="1.1"/>
<circle cx="304.1" cy="909.9" r="4.75" fill="#da8e93" stroke="#2b2b2b" stroke-width="1.1"/>
<circle cx="297.0" cy="922.4" r="4.75" fill="#da8e93" stroke="#2b2b2b" stroke-width="1.1"/>
<circle cx="304.4" cy="927.4" r="4.75" fill="#da8e93" stroke="#2b2b2b" stroke-width="1.1"/>
<circle cx="311.3" cy="921.0" r="4.75" fill="#da8e93" stroke="#2b2b2b" stroke-width="1.1"/>
<line x1="338.5" y1="892.2" x2="338.5" y2="907.8" stroke="#000" stroke-width="1.9"/><line x1="335.4" y1="892.2" x2="341.6" y2="892.2" stroke="#000" stroke-width="1.8"/><line x1="335.4" y1="907.8" x2="341.6" y2="907.8" stroke="#000" stroke-width="1.8"/><polygon points="338.5,893.4 345.4,899.8 338.5,906.2 331.6,899.8" fill="#da8e93" stroke="#333" stroke-width="1" stroke-linejoin="miter"/>
<polygon points="393.3,774.4 388.6,783.6 398.0,783.6" fill="#3161a4" stroke="#000" stroke-width="1.8" stroke-linejoin="miter"/>
<polygon points="400.4,814.5 395.7,823.7 405.1,823.7" fill="#3161a4" stroke="#000" stroke-width="1.8" stroke-linejoin="miter"/>
<polygon points="393.3,737.1 388.7,745.9 397.9,745.9" fill="#3161a4" stroke="#1a1a1a" stroke-width="1" stroke-linejoin="miter"/>
<polygon points="400.9,775.6 396.3,784.4 405.5,784.4" fill="#3161a4" stroke="#1a1a1a" stroke-width="1" stroke-linejoin="miter"/>
<polygon points="386.1,781.8 381.5,790.6 390.7,790.6" fill="#3161a4" stroke="#1a1a1a" stroke-width="1" stroke-linejoin="miter"/>
<polygon points="393.3,805.2 388.7,814.0 397.9,814.0" fill="#3161a4" stroke="#1a1a1a" stroke-width="1" stroke-linejoin="miter"/>
<polygon points="378.9,809.3 374.3,818.1 383.5,818.1" fill="#3161a4" stroke="#1a1a1a" stroke-width="1" stroke-linejoin="miter"/>
<polygon points="386.1,815.8 381.5,824.6 390.7,824.6" fill="#3161a4" stroke="#1a1a1a" stroke-width="1" stroke-linejoin="miter"/>
<polygon points="407.6,818.6 403.0,827.4 412.2,827.4" fill="#3161a4" stroke="#1a1a1a" stroke-width="1" stroke-linejoin="miter"/>
<polygon points="378.9,820.1 374.3,828.9 383.5,828.9" fill="#3161a4" stroke="#1a1a1a" stroke-width="1" stroke-linejoin="miter"/>
<polygon points="393.3,823.5 388.7,832.3 397.9,832.3" fill="#3161a4" stroke="#1a1a1a" stroke-width="1" stroke-linejoin="miter"/>
<polygon points="407.6,832.3 403.0,841.1 412.2,841.1" fill="#3161a4" stroke="#1a1a1a" stroke-width="1" stroke-linejoin="miter"/>
<polygon points="393.3,836.3 388.7,845.1 397.9,845.1" fill="#3161a4" stroke="#1a1a1a" stroke-width="1" stroke-linejoin="miter"/>
<polygon points="386.1,853.1 381.5,861.9 390.7,861.9" fill="#3161a4" stroke="#1a1a1a" stroke-width="1" stroke-linejoin="miter"/>
<polygon points="400.4,861.7 395.8,870.5 405.0,870.5" fill="#3161a4" stroke="#1a1a1a" stroke-width="1" stroke-linejoin="miter"/>
<polygon points="393.3,874.4 388.7,883.2 397.9,883.2" fill="#3161a4" stroke="#1a1a1a" stroke-width="1" stroke-linejoin="miter"/>
<polygon points="407.6,868.8 403.0,877.6 412.2,877.6" fill="#3161a4" stroke="#1a1a1a" stroke-width="1" stroke-linejoin="miter"/>
<polygon points="400.4,871.6 395.8,880.4 405.0,880.4" fill="#3161a4" stroke="#1a1a1a" stroke-width="1" stroke-linejoin="miter"/>
<polygon points="378.9,872.3 374.3,881.1 383.5,881.1" fill="#3161a4" stroke="#1a1a1a" stroke-width="1" stroke-linejoin="miter"/>
<polygon points="400.4,888.6 395.8,897.4 405.0,897.4" fill="#3161a4" stroke="#1a1a1a" stroke-width="1" stroke-linejoin="miter"/>
<polygon points="386.1,896.3 381.5,905.1 390.7,905.1" fill="#3161a4" stroke="#1a1a1a" stroke-width="1" stroke-linejoin="miter"/>
<polygon points="393.3,901.9 388.7,910.7 397.9,910.7" fill="#3161a4" stroke="#1a1a1a" stroke-width="1" stroke-linejoin="miter"/>
<line x1="427.7" y1="830.2" x2="427.7" y2="848.2" stroke="#000" stroke-width="1.9"/><line x1="424.6" y1="830.2" x2="430.8" y2="830.2" stroke="#000" stroke-width="1.8"/><line x1="424.6" y1="848.2" x2="430.8" y2="848.2" stroke="#000" stroke-width="1.8"/><polygon points="427.7,832.7 434.7,839.0 427.7,845.3 420.7,839.0" fill="#3161a4" stroke="#333" stroke-width="1" stroke-linejoin="miter"/>
<polygon points="468.2,793.3 463.5,802.5 472.9,802.5" fill="#e9161c" stroke="#000" stroke-width="1.8" stroke-linejoin="miter"/>
<polygon points="482.7,692.6 478.1,701.4 487.3,701.4" fill="#e9161c" stroke="#1a1a1a" stroke-width="1" stroke-linejoin="miter"/>
<polygon points="482.7,718.1 478.1,726.9 487.3,726.9" fill="#e9161c" stroke="#1a1a1a" stroke-width="1" stroke-linejoin="miter"/>
<polygon points="482.7,763.5 478.1,772.3 487.3,772.3" fill="#e9161c" stroke="#1a1a1a" stroke-width="1" stroke-linejoin="miter"/>
<polygon points="489.7,770.8 485.1,779.6 494.3,779.6" fill="#e9161c" stroke="#1a1a1a" stroke-width="1" stroke-linejoin="miter"/>
<polygon points="475.2,774.8 470.6,783.6 479.8,783.6" fill="#e9161c" stroke="#1a1a1a" stroke-width="1" stroke-linejoin="miter"/>
<polygon points="496.8,781.4 492.2,790.2 501.4,790.2" fill="#e9161c" stroke="#1a1a1a" stroke-width="1" stroke-linejoin="miter"/>
<polygon points="475.2,783.3 470.6,792.1 479.8,792.1" fill="#e9161c" stroke="#1a1a1a" stroke-width="1" stroke-linejoin="miter"/>
<polygon points="482.7,785.3 478.1,794.1 487.3,794.1" fill="#e9161c" stroke="#1a1a1a" stroke-width="1" stroke-linejoin="miter"/>
<polygon points="475.5,792.9 470.9,801.7 480.1,801.7" fill="#e9161c" stroke="#1a1a1a" stroke-width="1" stroke-linejoin="miter"/>
<polygon points="489.7,792.3 485.1,801.1 494.3,801.1" fill="#e9161c" stroke="#1a1a1a" stroke-width="1" stroke-linejoin="miter"/>
<polygon points="496.8,795.7 492.2,804.5 501.4,804.5" fill="#e9161c" stroke="#1a1a1a" stroke-width="1" stroke-linejoin="miter"/>
<polygon points="482.7,803.2 478.1,812.0 487.3,812.0" fill="#e9161c" stroke="#1a1a1a" stroke-width="1" stroke-linejoin="miter"/>
<polygon points="482.7,796.7 478.1,805.5 487.3,805.5" fill="#e9161c" stroke="#1a1a1a" stroke-width="1" stroke-linejoin="miter"/>
<polygon points="489.7,812.9 485.1,821.7 494.3,821.7" fill="#e9161c" stroke="#1a1a1a" stroke-width="1" stroke-linejoin="miter"/>
<polygon points="482.7,821.3 478.1,830.1 487.3,830.1" fill="#e9161c" stroke="#1a1a1a" stroke-width="1" stroke-linejoin="miter"/>
<polygon points="468.2,827.0 463.6,835.8 472.8,835.8" fill="#e9161c" stroke="#1a1a1a" stroke-width="1" stroke-linejoin="miter"/>
<polygon points="475.5,827.0 470.9,835.8 480.1,835.8" fill="#e9161c" stroke="#1a1a1a" stroke-width="1" stroke-linejoin="miter"/>
<polygon points="489.2,827.4 484.6,836.2 493.8,836.2" fill="#e9161c" stroke="#1a1a1a" stroke-width="1" stroke-linejoin="miter"/>
<polygon points="496.8,826.6 492.2,835.4 501.4,835.4" fill="#e9161c" stroke="#1a1a1a" stroke-width="1" stroke-linejoin="miter"/>
<polygon points="482.7,845.5 478.1,854.3 487.3,854.3" fill="#e9161c" stroke="#1a1a1a" stroke-width="1" stroke-linejoin="miter"/>
<line x1="517.0" y1="792.7" x2="517.0" y2="808.2" stroke="#000" stroke-width="1.9"/><line x1="513.9" y1="792.7" x2="520.1" y2="792.7" stroke="#000" stroke-width="1.8"/><line x1="513.9" y1="808.2" x2="520.1" y2="808.2" stroke="#000" stroke-width="1.8"/><polygon points="517.0,793.9 523.9,800.3 517.0,806.7 510.1,800.3" fill="#e9161c" stroke="#333" stroke-width="1" stroke-linejoin="miter"/>
</svg>
</body></html>
